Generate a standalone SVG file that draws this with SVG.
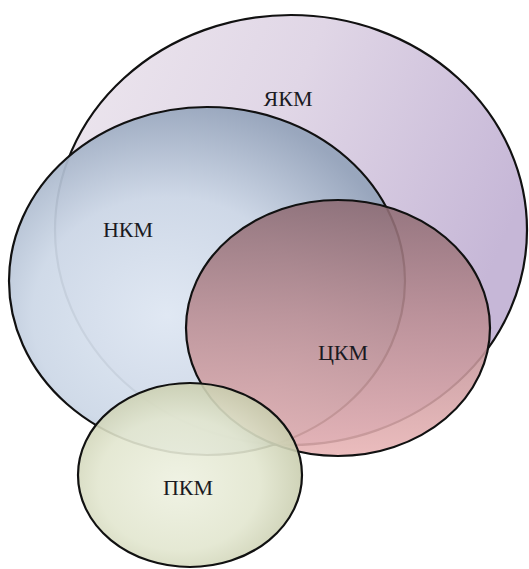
<svg xmlns="http://www.w3.org/2000/svg" width="529" height="569" viewBox="0 0 529 569">
<style>
.sh{stroke:#111;stroke-width:2.2}
.lb{font-family:"Liberation Serif","Times New Roman",serif;font-size:22px;fill:#1a1a22;text-anchor:middle}
</style>
<defs>
<linearGradient id="gY" x1="0" y1="0" x2="1" y2="0.4">
<stop offset="0" stop-color="#eee8ef"/>
<stop offset="0.5" stop-color="#e0d6e6"/>
<stop offset="1" stop-color="#c6b7d7"/>
</linearGradient>
<radialGradient id="gN" cx="0.4" cy="0.6" r="0.62">
<stop offset="0" stop-color="#e0e9f4"/>
<stop offset="0.55" stop-color="#cdd8e7"/>
<stop offset="1" stop-color="#95a4bb"/>
</radialGradient>
<linearGradient id="gC" x1="0" y1="0" x2="0" y2="1">
<stop offset="0" stop-color="#8c6a72"/>
<stop offset="0.45" stop-color="#b98c92"/>
<stop offset="1" stop-color="#e8b3b4"/>
</linearGradient>
<radialGradient id="gP" cx="0.45" cy="0.55" r="0.6">
<stop offset="0" stop-color="#eef1e1"/>
<stop offset="0.6" stop-color="#e2e6cf"/>
<stop offset="1" stop-color="#c4c8a8"/>
</radialGradient>
</defs>
<g id="yakm">
<ellipse class="sh" cx="291" cy="230" rx="236" ry="215" fill="url(#gY)"/>
<text class="lb" x="288" y="106">ЯКМ</text>
</g>
<g id="nkm">
<ellipse class="sh" cx="207" cy="281" rx="198" ry="174" fill="url(#gN)" fill-opacity="0.94"/>
<text class="lb" x="128" y="237">НКМ</text>
</g>
<g id="ckm">
<ellipse class="sh" cx="338" cy="328" rx="152" ry="128" fill="url(#gC)" fill-opacity="0.88"/>
<text class="lb" x="343" y="360">ЦКМ</text>
</g>
<g id="pkm">
<ellipse class="sh" cx="190" cy="475" rx="112" ry="92" fill="url(#gP)" fill-opacity="0.9"/>
<text class="lb" x="188" y="495">ПКМ</text>
</g>
<g id="connectors"></g>
</svg>
